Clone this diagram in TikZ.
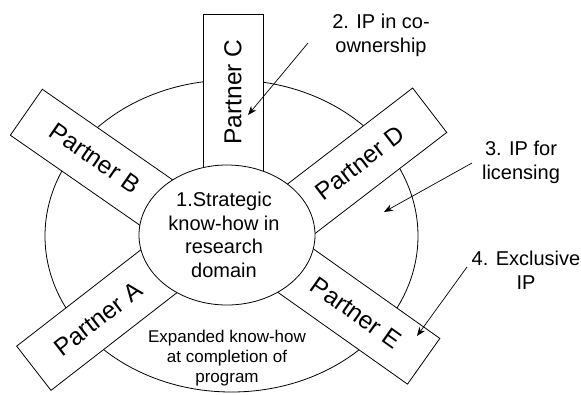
\documentclass[tikz,border=0pt]{standalone}
\usepackage{fontspec}
\setmainfont{Liberation Sans}
\usetikzlibrary{arrows.meta}

\begin{document}
\begin{tikzpicture}[x=1pt,y=-1pt,line width=0.8pt,
  partnerbox/.style={draw, fill=white, inner sep=0pt, minimum height=56pt, minimum width=230pt},
  partnerlabel/.style={font=\fontsize{24.5}{28}\selectfont, inner sep=0pt},
  bodytext/.style={align=center, inner sep=0pt, font=\fontsize{20}{23.5}\selectfont},
  sidetext/.style={align=center, inner sep=0pt, font=\fontsize{20}{24}\selectfont},
  pointer/.style={-{Stealth[length=9pt,width=7pt]}, line width=0.7pt}
]
\useasboundingbox (0,0) rectangle (581,394);

% outer ring: know-how reached at the end of the program
\draw (231.5,236) ellipse [x radius=186.5, y radius=156];

% partner bars radiating from the core
\node[partnerbox, rotate=90, anchor=east, minimum width=190pt, minimum height=60pt] (boxC) at (233,14) {};
\node[partnerbox, rotate=-34.8, anchor=west] (boxB) at (26,112) {};
\node[partnerbox, rotate=37.5, anchor=east] (boxD) at (430,110) {};
\node[partnerbox, rotate=37.8, anchor=west] (boxA) at (33.5,368.5) {};
\node[partnerbox, rotate=-35.3, anchor=east] (boxE) at (424,361.5) {};

% core know-how
\fill[white] (227,235) ellipse [x radius=88, y radius=70];
\draw (227,235) ellipse [x radius=88, y radius=70];
\node[bodytext] (core) at (224,235) {1.Strategic\\know-how in\\research\\domain};

% bar labels
\node[partnerlabel, rotate=90] (labC) at (233,92) {Partner C};
\node[partnerlabel, rotate=-34.8] (labB) at (95,158) {Partner B};
\node[partnerlabel, rotate=37.5] (labD) at (360,163) {Partner D};
\node[partnerlabel, rotate=37.8] (labA) at (98,319) {Partner A};
\node[partnerlabel, rotate=-35.3] (labE) at (356,313) {Partner E};

\node[align=center, inner sep=0pt, font=\fontsize{17}{20}\selectfont] (expanded) at (227,358)
  {Expanded know-how\\at completion of\\program};

% kinds of IP
\node[sidetext] (ip2) at (381,35) {2. IP in co-\\ownership};
\node[sidetext] (ip3) at (521,162) {3. IP for\\licensing};
\node[sidetext] (ip4) at (526,270) {4. Exclusive\\IP};

\coordinate (s2) at (308,43);
\coordinate (t2) at (248,115);
\coordinate (s3) at (472,163);
\coordinate (t3) at (384,212);
\coordinate (s4) at (467,267);
\coordinate (t4) at (417,336);
\draw[pointer] (s2) -- (t2);
\draw[pointer] (s3) -- (t3);
\draw[pointer] (s4) -- (t4);
\end{tikzpicture}
\end{document}
